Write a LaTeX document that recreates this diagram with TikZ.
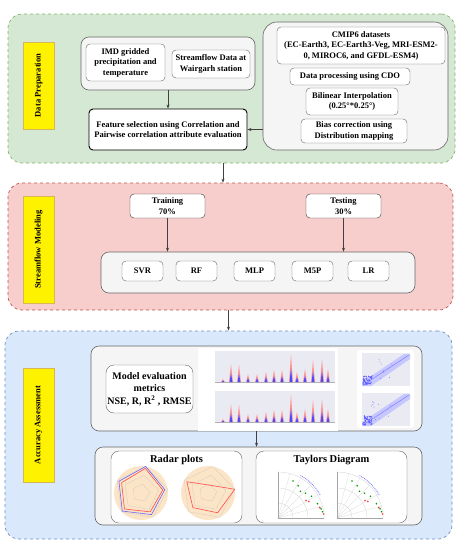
\documentclass[tikz,border=0pt]{standalone}
\usepackage{fontspec}
\setmainfont{Liberation Serif}
\usetikzlibrary{arrows.meta, positioning, calc}

\definecolor{prepfill}{HTML}{D5E8D4}
\definecolor{prepline}{HTML}{82B366}
\definecolor{modfill}{HTML}{F8CECC}
\definecolor{modline}{HTML}{B85450}
\definecolor{accfill}{HTML}{DAE8FC}
\definecolor{accline}{HTML}{6C8EBF}
\definecolor{tagline}{HTML}{D6B656}
\definecolor{groupfill}{HTML}{F5F5F5}
\definecolor{groupline}{HTML}{666666}
\definecolor{plotbg}{HTML}{EAEAF2}
\definecolor{radarbg}{HTML}{FCE4C6}

\begin{document}
\begin{tikzpicture}[
    x=1pt, y=-1pt,
    panel/.style={draw, dashed, rounded corners=14pt, line width=0.7pt},
    tag/.style={rotate=90, draw=tagline, fill=yellow, line width=0.9pt, minimum width=#1, minimum height=31pt, font=\bfseries\fontsize{8.5}{10}\selectfont},
    group/.style={draw=groupline, fill=groupfill, rounded corners=8pt, line width=0.6pt},
    box/.style={rectangle, draw=groupline, fill=white, rounded corners=4pt, align=center, inner sep=1pt, font=\bfseries\fontsize{8.5}{10.5}\selectfont},
    arrow/.style={-{Stealth[length=4pt, width=3pt]}, line width=0.6pt, draw=black!75},
]
\useasboundingbox (0,0) rectangle (459,550);

% panels
\node[panel, draw=prepline, fill=prepfill, minimum width=447pt, minimum height=149pt] (prep) at (231.5,88.5) {};
\node[panel, draw=modline, fill=modfill, minimum width=445pt, minimum height=127pt] (model) at (230.5,246.5) {};
\node[panel, draw=accline, fill=accfill, minimum width=447pt, minimum height=208pt] (acc) at (228.5,435) {};

\node[tag=87pt] (tagPrep) at (38.5,85.5) {Data Preparation};
\node[tag=107pt] (tagModel) at (38.5,249.5) {Streamflow Modeling};
\node[tag=114pt] (tagAcc) at (38.5,425) {Accuracy Assessment};

% data preparation
\node[group, minimum width=174pt, minimum height=53pt] (obsIn) at (168,63.5) {};
\node[box, minimum width=79pt, minimum height=37pt] (imd) at (125.5,62.5) {IMD gridded\\precipitation and\\temperature};
\node[box, minimum width=78pt, minimum height=28pt] (flow) at (211,64) {Streamflow Data at\\Wairgarh station};
\node[box, draw=black, line width=0.9pt, minimum width=158pt, minimum height=41pt] (feature) at (168,129.5) {Feature selection using Correlation and\\Pairwise correlation attribute evaluation};
\node[group, rounded corners=14pt, minimum width=185pt, minimum height=128pt] (cmipIn) at (355.5,86) {};
\node[box, minimum width=168pt, minimum height=37pt] (cmip) at (361,45.5) {CMIP6 datasets\\(EC-Earth3, EC-Earth3-Veg, MRI-ESM2-\\0, MIROC6, and GFDL-ESM4)};
\node[box, minimum width=120pt, minimum height=17pt] (cdo) at (350,76.5) {Data processing using CDO};
\node[box, minimum width=92pt, minimum height=27pt] (bilin) at (352,101.5) {Bilinear Interpolation\\(0.25°*0.25°)};
\node[box, minimum width=106pt, minimum height=24pt] (bias) at (354,131) {Bias correction using\\Distribution mapping};

\draw[arrow] (obsIn) -- (feature);
\draw[arrow] (cmipIn.west |- feature.east) -- (feature.east);
\draw[arrow] ([xshift=-8.5pt]prep.south) -- ([xshift=-8.5pt]prep.south |- model.north);

% streamflow modeling
\node[box, draw=black!80, minimum width=75pt, minimum height=24pt] (train) at (167.5,206) {Training\\70\%};
\node[box, draw=black!80, minimum width=75pt, minimum height=24pt] (test) at (343.5,206) {Testing\\30\%};
\node[group, minimum width=314pt, minimum height=41pt] (models) at (258,272.5) {};
\foreach \name/\px in {SVR/142.5, RF/196.5, MLP/254.5, M5P/312.5, LR/368.5}
  \node[box, minimum width=41pt, minimum height=20pt] (\name) at (\px,271) {\name};

\draw[arrow] (train) -- (train |- models.north);
\draw[arrow] (test) -- (test |- models.north);
\draw[arrow] ([xshift=-2pt]model.south) -- ([xshift=-2pt]model.south |- acc.north);

% accuracy assessment
\node[group, minimum width=331pt, minimum height=85pt] (evalIn) at (256.5,388.5) {};
\node[box, rounded corners=8pt, minimum width=87pt, minimum height=48pt, font=\bfseries\fontsize{10}{12.5}\selectfont] (metrics) at (149.5,389) {Model evaluation\\metrics\\NSE, R, R\textsuperscript{2} , RMSE};
\node[fill=white, minimum width=140pt, minimum height=83pt, inner sep=0pt] (series) at (268,389.5) {};
\node[fill=white, rounded corners=3pt, minimum width=57pt, minimum height=78pt, inner sep=0pt] (scatter) at (385.5,389) {};

% observed vs simulated discharge
\foreach \base in {382,422} {
  \fill[plotbg] (215,\base) rectangle (335,\base-31);
  \draw[gray!60, very thin] (215,\base) -- (335,\base);
  \foreach \px/\h in {223/3, 231/18, 239/17, 248/8, 257/8, 266/10, 274/12, 282/12, 291/28, 297/10, 305/13, 313/22, 322/23, 328/13} {
    \fill[red!40] (\px-2,\base) -- (\px,\base-\h) -- (\px+2,\base) -- cycle;
    \fill[blue!70] (\px-1.4,\base) -- (\px,\base-0.5*\h) -- (\px+1.4,\base) -- cycle;
  }
}

% scatter plots
\pgfmathsetseed{7}
\foreach \base in {386,426} {
  \fill[plotbg] (362,\base) rectangle (410,\base-33);
  \fill[blue!22] (362,\base-4) -- (404,\base-32) -- (410,\base-32) -- (410,\base-27) -- (371,\base) -- (362,\base) -- cycle;
  \draw[blue!55, thin] (363,\base-1) -- (409,\base-31);
  \foreach \i in {1,...,40}
    \fill[blue!65] ({363+9*rnd},{\base-1-9*rnd}) circle (0.7);
  \foreach \i in {1,...,10}
    \fill[blue!50] ({370+30*rnd},{\base-5-22*rnd}) circle (0.5);
}

\node[group, minimum width=327pt, minimum height=78pt] (plotsIn) at (258.5,486) {};
\node[box, rounded corners=8pt, minimum width=131pt, minimum height=72pt, text depth=57pt, font=\bfseries\fontsize{10.5}{12}\selectfont] (radar) at (176.5,487) {Radar plots};
\node[box, rounded corners=8pt, minimum width=151pt, minimum height=72pt, text depth=57pt, font=\bfseries\fontsize{10.5}{12}\selectfont] (taylor) at (331.5,487) {Taylors Diagram};

\draw[arrow] (evalIn) -- (evalIn |- plotsIn.north);

% radar charts
\foreach \cx/\ra/\rb/\rc/\rd/\re in {141/25/22/21/23/22, 208/8/27/22/21/24} {
  \begin{scope}[shift={(\cx,493)}, y=1pt]
    \fill[radarbg] (0,0) circle (27);
    \foreach \r in {9,18,27}
      \draw[gray!45, very thin] (80:\r) -- (8:\r) -- (-64:\r) -- (-136:\r) -- (152:\r) -- cycle;
    \draw[red!70, line width=0.6pt] (80:\ra) -- (8:\rb) -- (-64:\rc) -- (-136:\rd) -- (152:\re) -- cycle;
  \end{scope}
}
\draw[blue!60, line width=0.6pt, shift={(141,493)}, y=1pt] (80:27) -- (8:24) -- (-64:24) -- (-136:26) -- (152:25) -- cycle;

% taylor diagrams
\foreach \ox in {278,337} {
  \begin{scope}[shift={(\ox,518)}, y=1pt]
    \foreach \a in {15,30,45,60,75}
      \draw[gray!35, very thin] (0,0) -- (\a:46);
    \foreach \r in {15,30,46}
      \draw[gray!45, very thin] (\r,0) arc (0:90:\r);
    \draw[gray!70, thin] (0,46) -- (0,0) -- (46,0);
    \draw[blue!60, densely dotted, line width=0.8pt] (62:48) arc (62:28:48);
    \foreach \a/\r in {68/40, 58/38, 50/35, 42/37, 33/40, 20/42, 12/44, 8/45}
      \fill[green!60!black] (\a:\r) circle (0.9);
    \foreach \a/\r in {32/33, 28/35, 14/43, 5/46}
      \fill[red!80] (\a:\r) circle (0.9);
  \end{scope}
}

\end{tikzpicture}
\end{document}
